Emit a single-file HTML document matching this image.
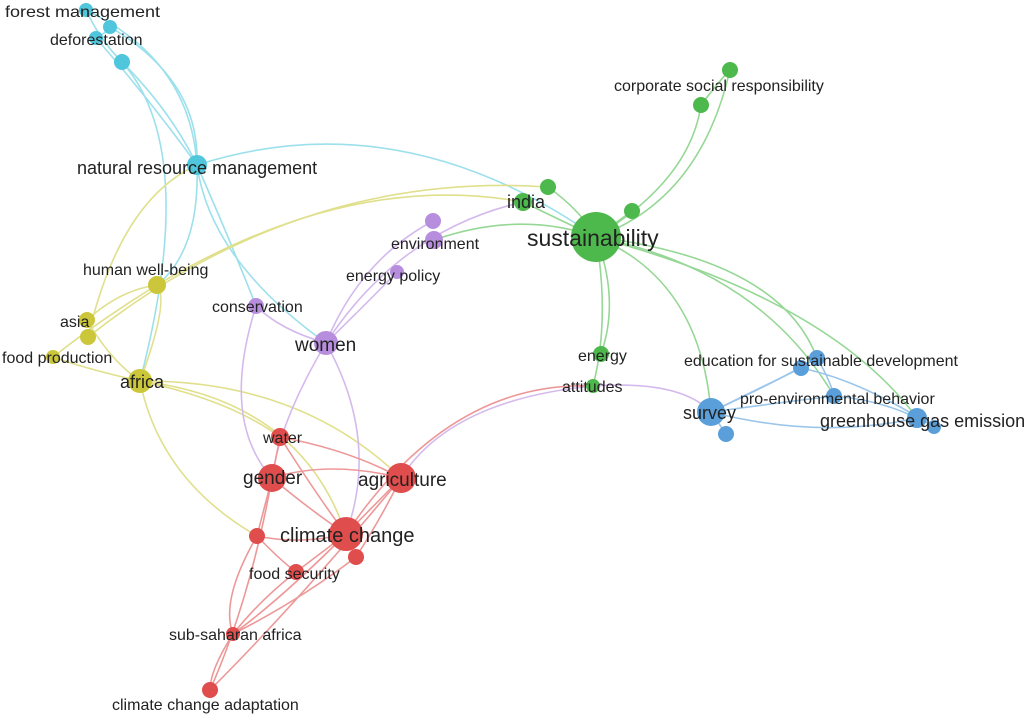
<!DOCTYPE html>
<html><head><meta charset="utf-8"><style>
html,body{margin:0;padding:0;background:#fff;}
svg{display:block}
text{font-family:"Liberation Sans",sans-serif;fill:#222;}
</style></head><body>
<svg width="1024" height="716" viewBox="0 0 1024 716">
<g fill="none" stroke-width="1.6" opacity="0.6">
<g stroke="#5ccde0">
<path d="M86 10 Q190 60 197 165"/><path d="M110 27 Q200 80 197 165"/><path d="M96 38 Q150 100 197 165"/><path d="M122 62 Q170 110 197 165"/>
<path d="M86 10 Q100 40 122 62"/><path d="M96 38 Q110 30 110 27"/>
<path d="M197 165 Q400 100 596 237"/><path d="M197 165 Q210 260 326 343"/><path d="M197 165 Q200 250 157 285"/><path d="M197 165 Q230 240 256 306"/>
<path d="M122 62 Q200 150 140 381"/>
</g>
<g stroke="#52be52">
<path d="M596 237 Q700 200 730 70"/><path d="M596 237 Q690 180 701 105"/><path d="M701 105 Q720 80 730 70"/>
<path d="M523 202 Q560 220 596 237"/><path d="M548 187 Q580 210 596 237"/><path d="M632 211 L596 237"/>
<path d="M596 237 Q620 300 601 354"/><path d="M596 237 Q610 320 593 386"/>
<path d="M596 237 Q700 280 711 412"/><path d="M596 237 Q780 260 817 358"/><path d="M596 237 Q760 270 834 396"/><path d="M596 237 Q830 300 917 418"/>
<path d="M434 240 Q520 210 596 237"/>
</g>
<g stroke="#cdcb40">
<path d="M157 285 Q350 170 523 202"/><path d="M88 337 Q300 170 548 187"/><path d="M140 381 Q170 300 157 285"/>
<path d="M87 320 Q120 290 157 285"/><path d="M53 357 Q100 320 157 285"/><path d="M87 320 Q110 360 140 381"/><path d="M53 357 Q90 370 140 381"/>
<path d="M140 381 Q160 480 257 536"/><path d="M140 381 Q300 380 401 478"/><path d="M140 381 Q230 400 280 437"/><path d="M140 381 Q300 400 346 534"/>
<path d="M88 337 Q120 200 197 165"/>
</g>
<g stroke="#b98de0">
<path d="M326 343 Q360 260 433 221"/><path d="M326 343 Q370 300 397 272"/><path d="M256 306 Q280 330 326 343"/>
<path d="M326 343 Q280 420 272 478"/><path d="M326 343 Q380 440 346 534"/><path d="M326 343 Q400 230 523 202"/>
<path d="M256 306 Q220 420 272 478"/><path d="M593 386 Q450 400 401 478"/><path d="M593 386 Q680 380 711 412"/>
</g>
<g stroke="#5aa1db">
<path d="M711 412 Q780 380 817 358"/><path d="M711 412 Q800 400 834 396"/><path d="M711 412 Q820 440 917 418"/><path d="M801 368 Q860 380 934 427"/>
<path d="M817 358 Q830 380 834 396"/><path d="M834 396 Q880 400 917 418"/><path d="M726 434 L711 412"/><path d="M801 368 L711 412"/>
</g>
<g stroke="#e25555">
<path d="M272 478 Q330 460 401 478"/><path d="M272 478 Q310 510 346 534"/><path d="M401 478 L346 534"/><path d="M280 437 Q350 450 401 478"/>
<path d="M280 437 L272 478"/><path d="M280 437 Q320 500 346 534"/><path d="M272 478 L257 536"/><path d="M257 536 Q300 545 346 534"/>
<path d="M257 536 Q280 560 296 572"/><path d="M296 572 L346 534"/><path d="M296 572 Q260 600 233 634"/><path d="M346 534 Q280 600 233 634"/>
<path d="M233 634 Q210 670 210 690"/><path d="M257 536 Q220 600 233 634"/><path d="M356 557 Q300 600 233 634"/><path d="M401 478 Q380 520 356 557"/>
<path d="M401 478 Q300 600 210 690"/><path d="M593 386 Q450 380 346 534"/><path d="M272 478 Q250 600 210 690"/>
</g>
</g>
<g>
<g fill="#4fc6dc"><circle cx="86" cy="10" r="7"/><circle cx="110" cy="27" r="7"/><circle cx="96" cy="38" r="7"/><circle cx="122" cy="62" r="8"/><circle cx="197" cy="165" r="10"/></g>
<g fill="#4db84b"><circle cx="730" cy="70" r="8"/><circle cx="701" cy="105" r="8"/><circle cx="523" cy="202" r="9"/><circle cx="548" cy="187" r="8"/><circle cx="632" cy="211" r="8"/><circle cx="596" cy="237" r="25"/><circle cx="601" cy="354" r="8"/><circle cx="593" cy="386" r="7"/></g>
<g fill="#b78ede"><circle cx="433" cy="221" r="8"/><circle cx="434" cy="240" r="9"/><circle cx="397" cy="272" r="7"/><circle cx="256" cy="306" r="8"/><circle cx="326" cy="343" r="12"/></g>
<g fill="#cbc63a"><circle cx="157" cy="285" r="9"/><circle cx="87" cy="320" r="8"/><circle cx="88" cy="337" r="8"/><circle cx="53" cy="357" r="7"/><circle cx="140" cy="381" r="12"/></g>
<g fill="#5a9fd9"><circle cx="817" cy="358" r="8"/><circle cx="801" cy="368" r="8"/><circle cx="834" cy="396" r="8"/><circle cx="711" cy="412" r="14"/><circle cx="726" cy="434" r="8"/><circle cx="917" cy="418" r="10"/><circle cx="934" cy="427" r="7"/></g>
<g fill="#e04d4d"><circle cx="280" cy="437" r="9"/><circle cx="272" cy="478" r="14"/><circle cx="401" cy="478" r="15"/><circle cx="346" cy="534" r="17"/><circle cx="257" cy="536" r="8"/><circle cx="356" cy="557" r="8"/><circle cx="296" cy="572" r="8"/><circle cx="233" cy="634" r="7"/><circle cx="210" cy="690" r="8"/></g>
</g>
<g font-size="16">
<text x="5" y="17" textLength="155" lengthAdjust="spacingAndGlyphs">forest management</text>
<text x="50" y="45">deforestation</text>
<text x="77" y="174" font-size="18">natural resource management</text>
<text x="614" y="91">corporate social responsibility</text>
<text x="507" y="208" font-size="18">india</text>
<text x="527" y="246" font-size="23">sustainability</text>
<text x="391" y="249">environment</text>
<text x="346" y="281">energy policy</text>
<text x="83" y="275">human well-being</text>
<text x="60" y="327">asia</text>
<text x="2" y="363">food production</text>
<text x="120" y="388" font-size="18">africa</text>
<text x="212" y="312">conservation</text>
<text x="295" y="351" font-size="19">women</text>
<text x="578" y="361">energy</text>
<text x="562" y="392">attitudes</text>
<text x="684" y="366">education for sustainable development</text>
<text x="740" y="404">pro-environmental behavior</text>
<text x="683" y="419" font-size="18">survey</text>
<text x="820" y="427" font-size="18">greenhouse gas emissions</text>
<text x="263" y="443">water</text>
<text x="243" y="484" font-size="19">gender</text>
<text x="358" y="486" font-size="19">agriculture</text>
<text x="280" y="542" font-size="20">climate change</text>
<text x="249" y="579">food security</text>
<text x="169" y="640">sub-saharan africa</text>
<text x="112" y="710">climate change adaptation</text>
</g>
</svg>
</body></html>
